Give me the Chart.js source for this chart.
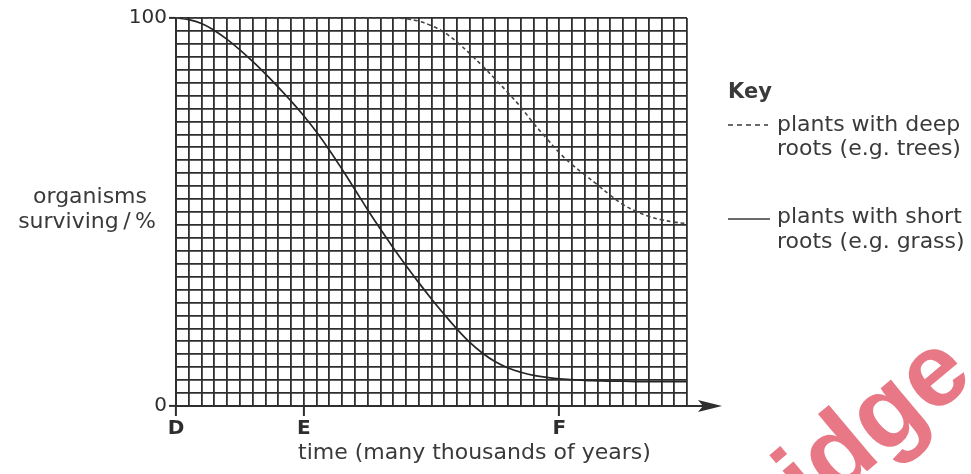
<!DOCTYPE html>
<html>
<head>
<meta charset="utf-8">
<script src="https://cdn.jsdelivr.net/npm/chart.js@4.4.1/dist/chart.umd.min.js"></script>
<style>
  html, body { margin: 0; padding: 0; background: #fff; }
  canvas { display: block; }
</style>
</head>
<body>
<canvas id="chart" width="971" height="474"></canvas>
<script>
// time in grid squares (D = 0, E = 10, F = 30)
const timeSteps = [0, 1, 2, 3, 4, 5, 6, 7, 8, 9, 10, 11, 12, 13, 14, 15, 16, 17, 18, 19, 20,
                   21, 22, 23, 24, 25, 26, 27, 28, 29, 30, 31, 32, 33, 34, 35, 36, 37, 38, 39, 40];
// % surviving
const deepRoots = [100, 100, 100, 100, 100, 100, 100, 100, 100, 100, 100, 100, 100, 100, 100, 100, 100, 100, 99.8, 99.2, 98,
                   96.3, 93.8, 90.8, 87.6, 84.2, 80.7, 77, 72.8, 69, 65.3, 62.2, 59.6, 57, 54.3, 51.9, 50.2, 48.9, 48, 47.4, 47];
const shortRoots = [100, 99.6, 98.6, 96.8, 94.5, 91.8, 88.8, 85.6, 82.2, 78.6, 74.8, 70.6, 66, 61, 55.8, 50.6, 45.6, 40.8, 36.2, 31.8, 27.6,
                    23.6, 19.8, 16.4, 13.6, 11.4, 9.8, 8.7, 7.9, 7.4, 7, 6.8, 6.6, 6.5, 6.4, 6.4, 6.3, 6.3, 6.3, 6.3, 6.3];
const xTickLabels = { 0: 'D', 10: 'E', 30: 'F' };
const yTickLabels = { 0: '0', 100: '100' };
const ySquares = 30;

const INK = '#2e2e2e';
const FONT = '"DejaVu Sans", Arial, sans-serif';

const toPoints = (ys) => timeSteps.map((t, i) => ({ x: t, y: ys[i] }));

const extras = {
    id: 'extras',
    afterDraw(chart) {
        const ctx = chart.ctx;
        const area = chart.chartArea;
        ctx.save();
        // axis arrow
        ctx.strokeStyle = INK;
        ctx.fillStyle = INK;
        ctx.lineWidth = 2;
        ctx.beginPath();
        ctx.moveTo(area.right, area.bottom);
        ctx.lineTo(706, area.bottom);
        ctx.stroke();
        ctx.beginPath();
        ctx.moveTo(722, area.bottom);
        ctx.lineTo(698, area.bottom - 6);
        ctx.lineTo(703, area.bottom);
        ctx.lineTo(698, area.bottom + 6);
        ctx.closePath();
        ctx.fill();

        // axis titles
        ctx.fillStyle = '#3a3a3a';
        ctx.font = '22px ' + FONT;
        ctx.textBaseline = 'alphabetic';
        ctx.textAlign = 'center';
        ctx.fillText('organisms', 90, 203);
        ctx.fillText('surviving\u2009/\u2009%', 87, 228);
        ctx.textAlign = 'left';
        ctx.fillText('time (many thousands of years)', 298, 459);

        // key
        ctx.font = 'bold 21px ' + FONT;
        ctx.fillText('Key', 728, 98);
        ctx.font = '22px ' + FONT;
        ctx.fillText('plants with deep', 777, 131);
        ctx.fillText('roots (e.g. trees)', 777, 155);
        ctx.fillText('plants with short', 777, 223);
        ctx.fillText('roots (e.g. grass)', 777, 248);
        ctx.strokeStyle = '#3a3a3a';
        ctx.lineWidth = 1.6;
        ctx.setLineDash([5, 4]);
        ctx.beginPath();
        ctx.moveTo(728, 125);
        ctx.lineTo(768, 125);
        ctx.stroke();
        ctx.setLineDash([]);
        ctx.beginPath();
        ctx.moveTo(728, 219);
        ctx.lineTo(770, 219);
        ctx.stroke();

        // watermark
        ctx.translate(976, 380);
        ctx.rotate(-40 * Math.PI / 180);
        ctx.font = 'bold 104px "Liberation Sans", Arial, sans-serif';
        ctx.textAlign = 'right';
        ctx.fillStyle = 'rgba(226, 86, 104, 0.8)';
        ctx.fillText('Cambridge', 0, 0);
        ctx.restore();
    }
};

new Chart(document.getElementById('chart'), {
    type: 'line',
    data: {
        datasets: [
            {
                label: 'plants with deep roots (e.g. trees)',
                data: toPoints(deepRoots),
                borderColor: '#444',
                borderWidth: 1.6,
                borderDash: [4, 3],
                pointRadius: 0,
                tension: 0.4,
                clip: 4
            },
            {
                label: 'plants with short roots (e.g. grass)',
                data: toPoints(shortRoots),
                borderColor: '#262626',
                borderWidth: 1.7,
                pointRadius: 0,
                tension: 0.4,
                clip: 4
            }
        ]
    },
    options: {
        responsive: false,
        animation: false,
        layout: { padding: { left: 120, right: 284, top: 18, bottom: 0 } },
        plugins: { legend: { display: false }, tooltip: { enabled: false } },
        scales: {
            x: {
                type: 'linear',
                min: 0,
                max: 40,
                afterBuildTicks: (axis) => { axis.ticks = timeSteps.map(v => ({ value: v })); },
                afterFit: (axis) => { axis.height = 68; },
                ticks: {
                    autoSkip: false,
                    maxRotation: 0,
                    padding: 1,
                    color: INK,
                    font: { family: FONT, size: 20, weight: 'bold' },
                    callback: (v) => xTickLabels[v] || ''
                },
                grid: {
                    color: INK,
                    lineWidth: 1.8,
                    tickLength: 10,
                    tickWidth: 2,
                    tickColor: (c) => (c.tick && xTickLabels[c.tick.value]) ? INK : 'rgba(0,0,0,0)'
                },
                border: { color: INK, width: 2 }
            },
            y: {
                min: 0,
                max: 100,
                afterBuildTicks: (axis) => {
                    const t = [];
                    for (let i = 0; i <= ySquares; i++) t.push({ value: i * 100 / ySquares });
                    axis.ticks = t;
                },
                afterFit: (axis) => { axis.width = 56; },
                ticks: {
                    autoSkip: false,
                    padding: 2,
                    color: INK,
                    font: { family: FONT, size: 20 },
                    callback: (v) => yTickLabels[Math.round(v * 1000) / 1000] || ''
                },
                grid: {
                    color: INK,
                    lineWidth: 1.8,
                    tickLength: 7,
                    tickWidth: 2,
                    tickColor: (c) => (c.tick && yTickLabels[Math.round(c.tick.value * 1000) / 1000]) ? INK : 'rgba(0,0,0,0)'
                },
                border: { color: INK, width: 2 }
            }
        }
    },
    plugins: [extras]
});
</script>
</body>
</html>
